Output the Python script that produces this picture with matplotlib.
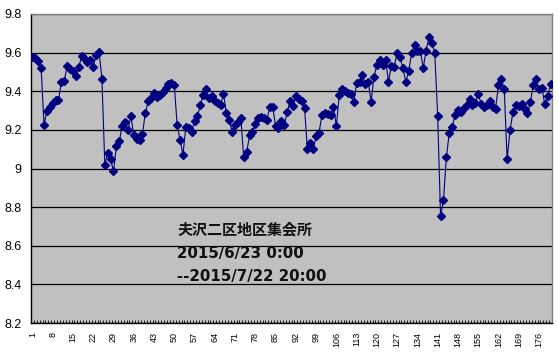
import matplotlib
matplotlib.use("Agg")
import matplotlib.pyplot as plt
import numpy as np

values = [
    9.575, 9.57, 9.555, 9.52, 9.225, 9.30, 9.32, 9.34, 9.357, 9.355,
    9.45, 9.455, 9.53, 9.513, 9.505, 9.48, 9.525, 9.58, 9.565, 9.55,
    9.56, 9.527, 9.586, 9.605, 9.466, 9.02, 9.08, 9.047, 8.986, 9.115,
    9.14, 9.22, 9.24, 9.2, 9.272, 9.172, 9.155, 9.15, 9.177, 9.288,
    9.348, 9.366, 9.39, 9.372, 9.38, 9.398, 9.415, 9.437, 9.443, 9.432,
    9.225, 9.148, 9.072, 9.214, 9.211, 9.19, 9.248, 9.272, 9.328, 9.383,
    9.41, 9.366, 9.375, 9.35, 9.338, 9.33, 9.386, 9.288, 9.25, 9.19,
    9.227, 9.24, 9.26, 9.057, 9.083, 9.172, 9.189, 9.233, 9.26, 9.268,
    9.26, 9.25, 9.32, 9.32, 9.22, 9.21, 9.246, 9.226, 9.29, 9.352,
    9.322, 9.373, 9.36, 9.35, 9.313, 9.1, 9.13, 9.1, 9.167, 9.185,
    9.275, 9.287, 9.283, 9.275, 9.32, 9.22, 9.382, 9.41, 9.40, 9.39,
    9.388, 9.345, 9.443, 9.45, 9.485, 9.44, 9.45, 9.345, 9.475, 9.537,
    9.562, 9.535, 9.562, 9.45, 9.532, 9.528, 9.6, 9.575, 9.519, 9.45,
    9.507, 9.596, 9.639, 9.611, 9.611, 9.52, 9.611, 9.679, 9.651, 9.597,
    9.272, 8.753, 8.835, 9.057, 9.183, 9.214, 9.278, 9.304, 9.292, 9.313,
    9.33, 9.36, 9.33, 9.34, 9.388, 9.334, 9.32, 9.33, 9.35, 9.32,
    9.31, 9.432, 9.466, 9.41, 9.047, 9.2, 9.29, 9.33, 9.325, 9.334,
    9.31, 9.287, 9.344, 9.43, 9.466, 9.41, 9.418, 9.334, 9.374, 9.44,
]
categories = list(range(1, len(values) + 1))
xtick_labels = [str(c) for c in categories[::7]]
ytick_values = [8.2, 8.4, 8.6, 8.8, 9.0, 9.2, 9.4, 9.6, 9.8]
note_lines = ["夫沢二区地区集会所", "2015/6/23 0:00", "--2015/7/22 20:00"]

W, H = 558, 357
fig = plt.figure(figsize=(W / 100, H / 100), dpi=100)
fig.patch.set_facecolor("white")
L, R, T, B = 31, 552, 14, 323
ax = fig.add_axes([L / W, 1 - B / H, (R - L) / W, (B - T) / H])
ax.set_facecolor("#C0C0C0")

ax.set_ylim(8.2, 9.8)
ax.set_xlim(0.5, len(values) + 0.5)
ax.set_yticks(ytick_values)
ax.set_yticklabels([f"{v:g}" for v in ytick_values],
                   fontfamily="Liberation Sans", fontsize=9)
ax.yaxis.grid(True, color="black", linewidth=0.9)
ax.set_axisbelow(True)

ax.plot(categories, values, color="#000080", linewidth=0.8,
        marker="D", markersize=4.2, markerfacecolor="#000080",
        markeredgecolor="#000080", zorder=3)

ax.set_xticks(categories[::7])
ax.set_xticklabels(xtick_labels, rotation=90, fontfamily="Liberation Sans",
                   fontsize=6.5, va="top")
ax.tick_params(axis="x", which="major", length=0, pad=6.5)
ax.set_xticks(np.arange(0.5, len(values) + 1, 1.0), minor=True)
ax.tick_params(axis="x", which="minor", direction="in", length=2,
               width=0.6, color="black")
ax.tick_params(axis="y", length=0, pad=7)

for s in ["top", "right"]:
    ax.spines[s].set_color("#808080")
    ax.spines[s].set_linewidth(1)
for s in ["left", "bottom"]:
    ax.spines[s].set_color("black")
    ax.spines[s].set_linewidth(1)

for k, line in enumerate(note_lines):
    fig.text(177 / W, 1 - (230 + 23.5 * k) / H, line,
             fontfamily=["DejaVu Sans", "Noto Sans CJK JP"],
             fontweight="bold", fontsize=10.8, color="#111111",
             ha="left", va="center")

fig.savefig("out.png", dpi=100, facecolor="white")
